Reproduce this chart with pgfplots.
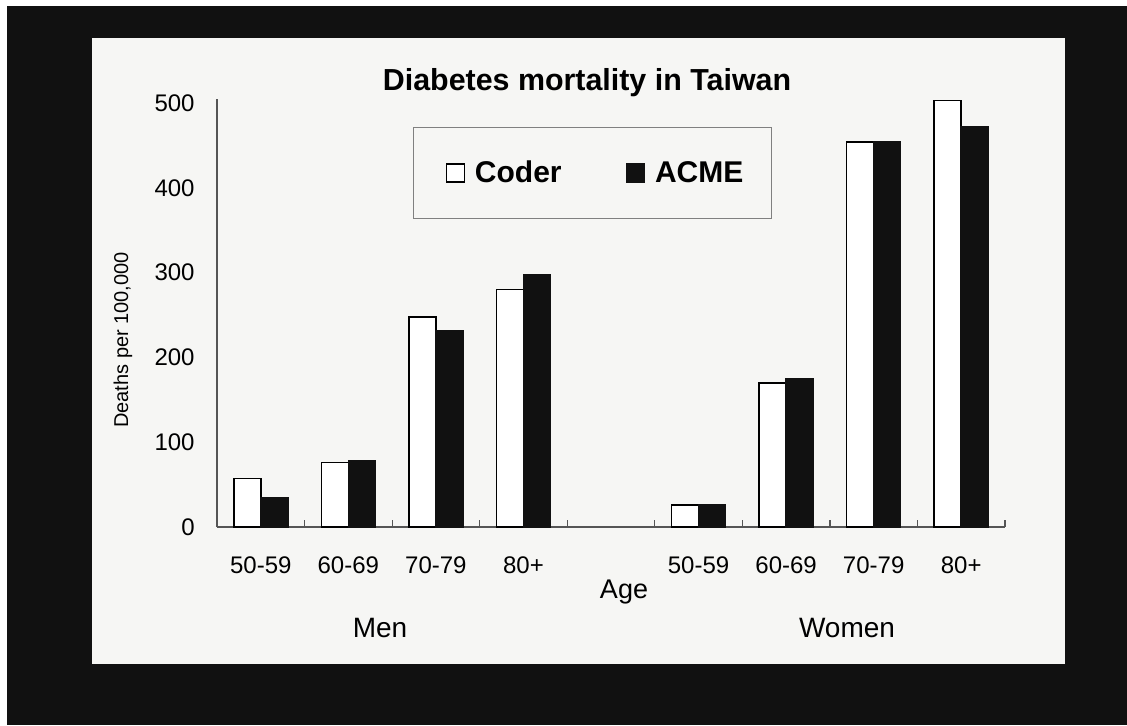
\documentclass[border=0pt]{standalone}
\usepackage{fontspec}
\setmainfont{Liberation Sans}
\usepackage{pgfplots}
\pgfplotsset{compat=1.18}
\definecolor{panel}{HTML}{F6F6F4}
\definecolor{frame}{HTML}{111111}
\definecolor{axisgray}{HTML}{555555}
\begin{document}
\begin{tikzpicture}
\fill[white] (0pt,0pt) rectangle (563.5pt,362.5pt);
\fill[frame] (3.5pt,0pt) rectangle (563.5pt,359.5pt);
\fill[panel] (46pt,30.5pt) rectangle (532.5pt,343.5pt);
\begin{axis}[
  scale only axis, width=394pt, height=214.1pt,
  at={(108.5pt,99pt)}, anchor=south west,
  xmin=0.5, xmax=9.5, ymin=0, ymax=505,
  axis x line*=bottom, axis y line*=left,
  axis line style={axisgray, line width=0.6pt},
  ytick={0,100,200,300,400,500},
  xtick={1,2,3,4,6,7,8,9},
  xticklabels={50-59,60-69,70-79,80+,50-59,60-69,70-79,80+},
  minor xtick={1.5,2.5,3.5,4.5,5.5,6.5,7.5,8.5,9.5},
  major tick length=0pt, minor tick length=-3.5pt, tick align=inside, xtick align=inside,
  tick style={axisgray, line width=0.6pt},
  ytick style={draw=none},
  /pgf/number format/assume math mode=true,
  xticklabel style={font=\fontsize{12}{14}\selectfont, anchor=center, yshift=-19pt},
  yticklabel style={font=\fontsize{12}{14}\selectfont, anchor=east, inner sep=0pt, xshift=-11pt},
  ybar=0pt, bar width=13.5pt,
  clip=false,
  legend columns=2,
  legend style={at={(0.2487,0.934)}, anchor=north west, draw=gray, fill=panel, line width=0.6pt,
    inner xsep=13pt, inner ysep=15.5pt,
    font=\bfseries\fontsize{15}{18}\selectfont,
    nodes={inner sep=1pt},
    /tikz/every odd column/.append style={column sep=4pt},
    /tikz/every even column/.append style={column sep=28pt}},
  sq/.style={legend image code/.code={\path (0pt,0pt); \draw[##1, line width=0.6pt] (3pt,-4.5pt) rectangle (12pt,4.5pt);}},
]
\addplot[fill=white, draw=black, line width=0.8pt, sq] coordinates {(1,57) (2,76) (3,248) (4,280) (6,26) (7,170) (8,454) (9,503)};
\addlegendentry{Coder}
\addplot[fill=frame, draw=frame, line width=0.8pt, sq] coordinates {(1,35) (2,78) (3,231) (4,297) (6,26) (7,175) (8,454) (9,472)};
\addlegendentry{ACME}
\end{axis}
\node[font=\bfseries\fontsize{15.2}{18}\selectfont] at (293.5pt,321pt) {Diabetes mortality in Taiwan};
\node[font=\fontsize{14}{16}\selectfont] at (190pt,48.5pt) {Men};
\node[font=\fontsize{14}{16}\selectfont] at (423.5pt,48.5pt) {Women};
\node[font=\fontsize{13.5}{16}\selectfont] at (312pt,66.5pt) {Age};
\node[font=\fontsize{10}{12}\selectfont, rotate=90] at (61.5pt,192.5pt) {Deaths per 100,000};
\end{tikzpicture}
\end{document}
